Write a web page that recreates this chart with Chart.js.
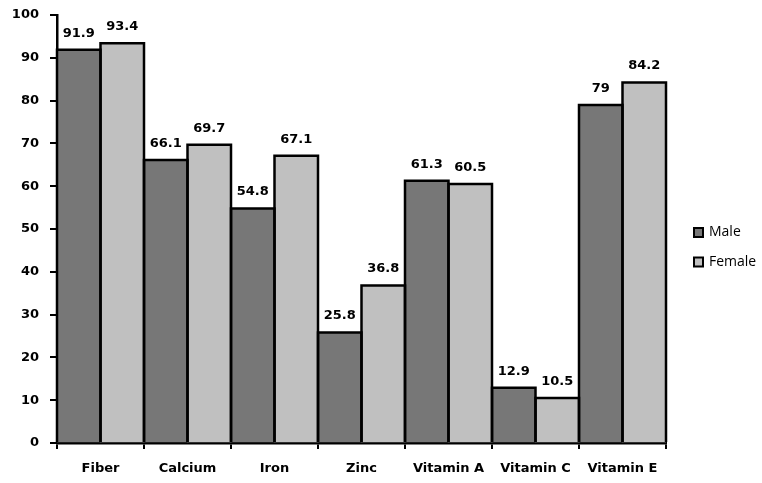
<!DOCTYPE html>
<html>
<head>
<meta charset="utf-8">
<script src="https://cdn.jsdelivr.net/npm/chart.js@4"></script>
<style>
  html, body { margin: 0; padding: 0; background: #fff; }
  #wrap { width: 762px; height: 483px; }
</style>
</head>
<body>
<div id="wrap"><canvas id="c" width="762" height="483"></canvas></div>
<script>
const categories = ['Fiber', 'Calcium', 'Iron', 'Zinc', 'Vitamin A', 'Vitamin C', 'Vitamin E'];
const maleValues = [91.9, 66.1, 54.8, 25.8, 61.3, 12.9, 79];
const femaleValues = [93.4, 69.7, 67.1, 36.8, 60.5, 10.5, 84.2];
const yTicks = [0, 10, 20, 30, 40, 50, 60, 70, 80, 90, 100];

const boldFont = { family: 'DejaVu Sans', size: 13, weight: 'bold' };

// Outlines shared between touching bars, so neighbours share a single edge line
const barOutlines = {
  id: 'barOutlines',
  afterDatasetsDraw(chart) {
    const ctx = chart.ctx;
    ctx.save();
    ctx.lineWidth = 2.5;
    ctx.strokeStyle = '#000';
    ctx.lineJoin = 'miter';
    chart.data.datasets.forEach((ds, di) => {
      chart.getDatasetMeta(di).data.forEach(bar => {
        const left = bar.x - bar.width / 2;
        const right = bar.x + bar.width / 2;
        ctx.beginPath();
        ctx.moveTo(left, bar.base);
        ctx.lineTo(left, bar.y);
        ctx.lineTo(right, bar.y);
        ctx.lineTo(right, bar.base);
        ctx.stroke();
      });
    });
    ctx.restore();
  }
};

// Value labels drawn above each bar
const valueLabels = {
  id: 'valueLabels',
  afterDatasetsDraw(chart) {
    const ctx = chart.ctx;
    ctx.save();
    ctx.font = 'bold 13px "DejaVu Sans"';
    ctx.fillStyle = '#000';
    ctx.textAlign = 'center';
    ctx.textBaseline = 'bottom';
    chart.data.datasets.forEach((ds, di) => {
      chart.getDatasetMeta(di).data.forEach((bar, i) => {
        ctx.fillText(String(ds.data[i]), bar.x, bar.y - 10);
      });
    });
    ctx.restore();
  }
};

// Legend at the right, vertically centred
const sideLegend = {
  id: 'sideLegend',
  afterDraw(chart) {
    const ctx = chart.ctx;
    ctx.save();
    ctx.font = '14px "Open Sans"';
    ctx.textBaseline = 'middle';
    const x0 = 694, rowY = [232.5, 262];
    chart.data.datasets.forEach((ds, di) => {
      const y = rowY[di];
      ctx.fillStyle = ds.backgroundColor;
      ctx.fillRect(x0, y - 4.5, 9, 9);
      ctx.lineWidth = 2;
      ctx.strokeStyle = '#000';
      ctx.strokeRect(x0, y - 4.5, 9, 9);
      ctx.fillStyle = '#000';
      ctx.fillText(ds.label, x0 + 15, y);
    });
    ctx.restore();
  }
};

new Chart(document.getElementById('c'), {
  type: 'bar',
  data: {
    labels: categories,
    datasets: [
      { label: 'Male', data: maleValues, backgroundColor: '#777777', borderWidth: 0 },
      { label: 'Female', data: femaleValues, backgroundColor: '#c0c0c0', borderWidth: 0 }
    ]
  },
  options: {
    responsive: false,
    animation: false,
    layout: { padding: { top: 15, right: 96, bottom: 0, left: 0 } },
    datasets: { bar: { barPercentage: 1, categoryPercentage: 1 } },
    plugins: { legend: { display: false }, tooltip: { enabled: false } },
    scales: {
      x: {
        grid: { display: true, offset: true, drawOnChartArea: false, drawTicks: true, tickLength: 6, color: '#000', lineWidth: 2 },
        border: { display: true, color: '#000', width: 2.5 },
        ticks: { color: '#000', font: boldFont, padding: 12, maxRotation: 0 },
        afterFit(scale) { scale.height = 40; scale.paddingLeft = 0; scale.paddingRight = 0; }
      },
      y: {
        min: 0, max: 100,
        afterBuildTicks(scale) { scale.ticks = yTicks.map(v => ({ value: v })); },
        grid: { display: true, drawOnChartArea: false, drawTicks: true, tickLength: 7, color: '#000', lineWidth: 2 },
        border: { display: true, color: '#000', width: 2.5 },
        ticks: { color: '#000', font: boldFont, padding: 11 },
        afterFit(scale) { scale.width = 57; scale.paddingTop = 0; scale.paddingBottom = 0; }
      }
    }
  },
  plugins: [barOutlines, valueLabels, sideLegend]
});
</script>
</body>
</html>
